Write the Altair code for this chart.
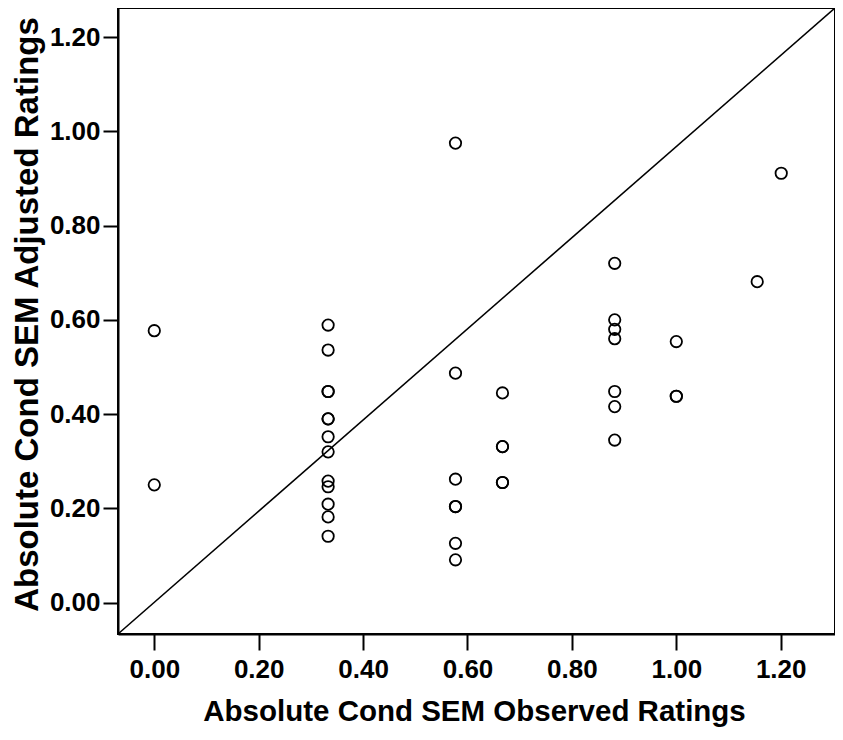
import altair as alt
import pandas as pd

# Data
x_obs = [0.0, 0.0,
         0.333, 0.333, 0.333, 0.333, 0.333, 0.333, 0.333, 0.333, 0.333, 0.333, 0.333, 0.333, 0.333,
         0.577, 0.577, 0.577, 0.577, 0.577, 0.577, 0.577,
         0.667, 0.667, 0.667, 0.667, 0.667,
         0.882, 0.882, 0.882, 0.882, 0.882, 0.882, 0.882,
         1.0, 1.0, 1.0,
         1.155,
         1.201]
y_adj = [0.577, 0.250,
         0.589, 0.536, 0.448, 0.448, 0.390, 0.390, 0.352, 0.320, 0.258, 0.246, 0.209, 0.182, 0.141,
         0.975, 0.487, 0.262, 0.204, 0.204, 0.126, 0.091,
         0.445, 0.331, 0.331, 0.255, 0.255,
         0.720, 0.600, 0.580, 0.560, 0.448, 0.416, 0.345,
         0.554, 0.438, 0.438,
         0.681,
         0.911]

x_domain = [-0.0695, 1.304]
y_domain = [-0.0664, 1.2616]
tick_values = [0.0, 0.2, 0.4, 0.6, 0.8, 1.0, 1.2]

x_title = "Absolute Cond SEM Observed Ratings"
y_title = "Absolute Cond SEM Adjusted Ratings"

points = pd.DataFrame({"x": x_obs, "y": y_adj})
diag = pd.DataFrame({"x": x_domain, "y": y_domain})

FONT = "Liberation Sans"

xscale = alt.Scale(domain=x_domain, nice=False, zero=False)
yscale = alt.Scale(domain=y_domain, nice=False, zero=False)

xaxis = alt.Axis(values=tick_values, format=".2f", grid=False,
                 tickSize=16, labelPadding=6,
                 titleX=356, titleY=86, titleBaseline="alphabetic", titleAlign="center")
yaxis = alt.Axis(values=tick_values, format=".2f", grid=False,
                 tickSize=15, labelPadding=3,
                 titleX=-91, titleY=306, titleBaseline="middle", titleAlign="center", titleAngle=270)

pts = alt.Chart(points).mark_point(
    shape="circle", filled=False, stroke="black", strokeWidth=1.8, size=130, opacity=1
).encode(
    x=alt.X("x:Q", scale=xscale, axis=xaxis, title=x_title),
    y=alt.Y("y:Q", scale=yscale, axis=yaxis, title=y_title),
)

line = alt.Chart(diag).mark_line(color="black", strokeWidth=1.6).encode(
    x=alt.X("x:Q", scale=xscale),
    y=alt.Y("y:Q", scale=yscale),
)

chart = alt.layer(line, pts).properties(
    width=717, height=626,
    autosize=alt.AutoSizeParams(type="none"),
    padding={"left": 110, "top": 0, "right": 0, "bottom": 94},
).configure_view(
    stroke="black", strokeWidth=2
).configure_axis(
    domainColor="black", domainWidth=2,
    tickColor="black", tickWidth=2,
    labelFont=FONT, labelFontSize=26, labelFontWeight="bold", labelColor="black",
    titleFont=FONT, titleFontWeight="bold", titleColor="black",
).configure_axisX(
    titleFontSize=29.5
).configure_axisY(
    titleFontSize=33
)

chart.save("out.html", embed_options={"renderer": "svg", "actions": False})
